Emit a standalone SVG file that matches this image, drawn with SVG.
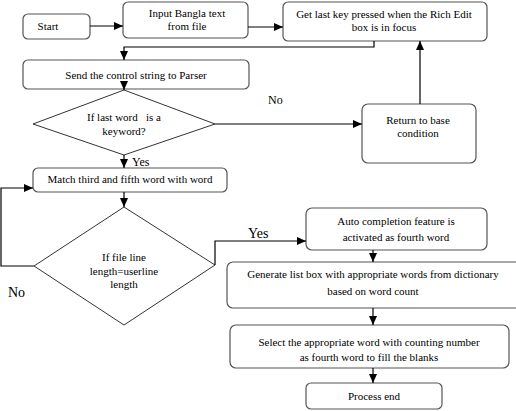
<svg xmlns="http://www.w3.org/2000/svg" width="516" height="411" viewBox="0 0 516 411">
<defs>
<marker id="ah" markerWidth="9" markerHeight="8" refX="9" refY="4" orient="auto" markerUnits="userSpaceOnUse">
<path d="M0,0 L9,4 L0,8 Z" fill="#000"/>
</marker>
<style>
.box{fill:#fff;stroke:#555;stroke-width:1.2}
.dia{fill:#fff;stroke:#333;stroke-width:1}
.ln{fill:none;stroke:#000;stroke-width:1.2}
.t{font-size:11px;fill:#000;text-anchor:middle}
</style>
</defs>
<rect width="516" height="411" fill="#fff"/>
<g font-family="Liberation Serif, Times New Roman, serif">
<g id="start"><rect class="box" x="23" y="14" width="67" height="25" rx="5"/><text class="t" x="48" y="30">Start</text></g>
<g id="input"><rect class="box" x="123" y="2" width="125" height="36" rx="5"/><text class="t" x="187" y="17">Input Bangla text</text><text class="t" x="187" y="30">from file</text></g>
<g id="getkey"><rect class="box" x="283" y="2" width="204" height="39" rx="5"/><text class="t" x="384" y="18">Get last key pressed when the Rich Edit</text><text class="t" x="384" y="31">box is in focus</text></g>
<g id="send"><rect class="box" x="23" y="60" width="226" height="29" rx="5"/><text class="t" x="136" y="79">Send the control string to Parser</text></g>
<g id="dec1"><polygon class="dia" points="124,90 215,124 124,155 33,124"/><text class="t" x="124" y="121" xml:space="preserve">If last word   is a</text><text class="t" x="124" y="135">keyword?</text></g>
<g id="return"><rect class="box" x="362" y="104" width="114" height="59" rx="6"/><text class="t" x="418" y="124">Return to base</text><text class="t" x="418" y="137">condition</text></g>
<g id="match"><rect class="box" x="33" y="168" width="194" height="24" rx="5"/><text class="t" x="130" y="183">Match third and fifth word with word</text></g>
<g id="dec2"><polygon class="dia" points="124,207 215,265 124,325 34,266"/><text class="t" x="124" y="261">If file line</text><text class="t" x="124" y="275">length=userline</text><text class="t" x="124" y="288">length</text></g>
<g id="auto"><rect class="box" x="306" y="208" width="181" height="42" rx="6"/><text class="t" x="396" y="225">Auto completion feature is</text><text class="t" x="396" y="241">activated as fourth word</text></g>
<g id="generate"><rect class="box" x="227" y="262" width="300" height="46" rx="6"/><text class="t" x="373" y="278">Generate list box with appropriate words from dictionary</text><text class="t" x="373" y="295">based on word count</text></g>
<g id="select"><rect class="box" x="230" y="325" width="279" height="43" rx="6"/><text class="t" x="369" y="346">Select the appropriate word with counting number</text><text class="t" x="369" y="361">as fourth word to fill the blanks</text></g>
<g id="end"><rect class="box" x="306" y="383" width="136" height="26" rx="5"/><text class="t" x="374" y="400">Process end</text></g>
<g id="connectors">
<path class="ln" d="M90,26 L123,26" marker-end="url(#ah)"/>
<path class="ln" d="M248,27 L283,27" marker-end="url(#ah)"/>
<path class="ln" d="M374,41 L374,47 L124,47 L124,60" marker-end="url(#ah)"/>
<path class="ln" d="M124,81 L124,90" marker-end="url(#ah)"/>
<path class="ln" d="M215,124 L362,124" marker-end="url(#ah)"/>
<path class="ln" d="M420,104 L420,41" marker-end="url(#ah)"/>
<path class="ln" d="M124,155 L124,168" marker-end="url(#ah)"/>
<path class="ln" d="M124,192 L124,207" marker-end="url(#ah)"/>
<path class="ln" d="M34,266 L1,266 L1,188 L33,188" marker-end="url(#ah)"/>
<path class="ln" d="M215,265 L215,241 L306,241" marker-end="url(#ah)"/>
<path class="ln" d="M373,250 L373,262" marker-end="url(#ah)"/>
<path class="ln" d="M373,308 L373,325" marker-end="url(#ah)"/>
<path class="ln" d="M373,368 L373,383" marker-end="url(#ah)"/>
</g>
<text x="268" y="104" font-size="12">No</text>
<text x="132" y="166" font-size="12">Yes</text>
<text x="248" y="238" font-size="14">Yes</text>
<text x="8" y="297" font-size="14">No</text>
</g>
</svg>
